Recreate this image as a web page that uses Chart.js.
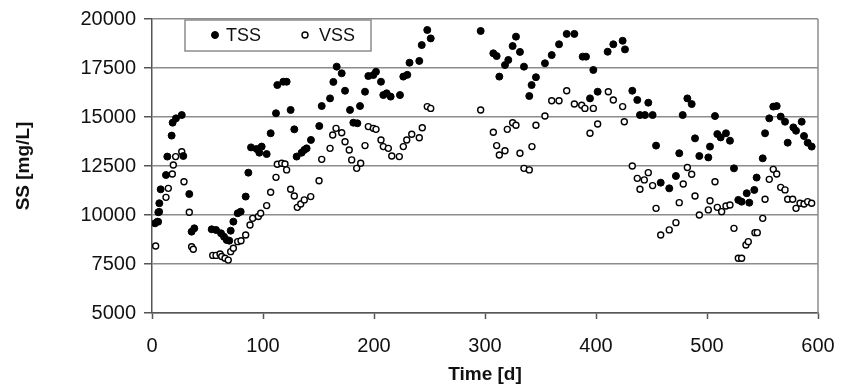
<!DOCTYPE html>
<html>
<head>
<meta charset="utf-8">
<script src="https://cdn.jsdelivr.net/npm/chart.js@4"></script>
<style>
  body { margin: 0; background: #fff; }
  #wrap { width: 841px; height: 390px; }
</style>
</head>
<body>
<div id="wrap"><canvas id="ssChart" width="841" height="390"></canvas></div>
<script>
  // TSS: filled dots
  const tssDays = [2.7, 4.8, 5.7, 6.6, 7.8, 12.6, 13.8, 17.7, 18.6, 21.6, 26.8, 28.2, 33.6, 35.7, 38.1,
    53.8, 57.7, 62.2, 64.9, 67.3, 69.6, 70.9, 73.3, 77.2, 79.9, 84.4, 86.8, 89.2, 94.3, 96.7, 98.8,
    103.3, 106.9, 111.7, 112.9, 118.3, 121.3, 124.9, 128.2, 130.3, 134.8, 137.2, 139.3, 143.2, 150.7,
    152.9, 160.4, 163.4, 166.4, 170.9, 173.9, 178.4, 181.4, 185, 187.4, 191.9, 194.9, 199.4, 201.8,
    206.3, 208.4, 211.4, 215, 223.4, 226.4, 230, 232, 240.8, 243, 248, 251.1,
    296.1, 307.5, 310.5, 312.9, 318, 321, 324.9, 327.9, 331.5, 335.1, 339.9, 342, 345.9, 354, 360.1,
    366.7, 373.6, 380.5, 388, 391, 394.6, 397.6, 401.5, 410.5, 415.6, 424, 426.1, 432.7, 437.2, 439.6,
    444.1, 447.1, 451, 454.1, 458.3, 466, 472, 475, 478.1, 482.3, 486.2, 489.2, 493.1, 501.2, 502.7,
    507.2, 509.3, 512.3, 517.1, 520.7, 524.3, 528.2, 531.2, 535.8, 538.1, 542.6, 544.7, 550.2, 552.3,
    556.1, 559.7, 562.8, 566.4, 570.3, 572.7, 577.8, 580.2, 585.3, 587.4, 590.7, 594.3];
  const tssValues = [9575, 9660, 10140, 10600, 11310, 12040, 12980, 14050, 14710, 14930, 15100, 13010, 11070, 9150, 9320,
    9270, 9235, 9065, 8890, 8725, 8690, 9200, 9660, 10090, 10170, 10940, 12160, 13450, 13370, 13180, 13490,
    13110, 14170, 15190, 16630, 16800, 16800, 15360, 14370, 12980, 13180, 13320, 13400, 13830, 14540,
    15560, 15950, 16790, 17570, 17230, 16340, 15360, 14710, 14680, 15560, 16290, 17090, 17140, 17310,
    16800, 16120, 16210, 16040, 16120, 17060, 17150, 17770, 17860, 18670, 19440, 19010,
    19390, 18250, 18110, 17060, 17650, 17910, 18620, 19100, 18320, 17570, 16070, 16630, 17030, 17740, 18160,
    18710, 19240, 19240, 18080, 18080, 15950, 17400, 16290, 18330, 18710, 18890, 18450, 16340, 15870, 15100,
    15100, 15730, 15100, 13540, 11650, 11360, 11990, 13150, 15100, 15950, 15660, 13910, 13010, 12940, 13490,
    15050, 14130, 13960, 14170, 13790, 12380, 10770, 10680, 11110, 10630, 11280, 11910, 12890, 14170,
    14930, 15530, 15560, 15020, 14760, 13690, 14470, 14300, 14760, 14030, 13690, 13490];

  // VSS: open circles
  const vssDays = [3.3, 5.7, 6.6, 12.6, 14.7, 18.3, 19.2, 21.3, 26.8, 28.8, 33.6, 35.7, 37.2,
    54.7, 57.7, 61.3, 62.8, 65.8, 68.7, 70.9, 73.3, 77.2, 80.2, 84.4, 88.3, 90.7, 95.8, 97.9,
    103.3, 106.9, 111.7, 112.9, 116.8, 119.8, 121.3, 124.9, 128.2, 130.9, 134, 137.2, 143, 150.5,
    152.9, 160.4, 162.8, 165.8, 170.9, 173.9, 177.7, 179.9, 184.4, 188, 191.9, 194.9, 199.4, 201.8,
    206.3, 208.4, 212.9, 216, 222.8, 226.4, 229.5, 234, 240.8, 243.5, 248, 251.1,
    296.1, 307.5, 310.5, 312.9, 318, 320.1, 324.9, 327.9, 331.5, 335.1, 339.9, 342.3, 345.9, 354, 360.1,
    366.7, 373.6, 380.5, 387.1, 390, 394.6, 397.6, 401.5, 411.1, 415.6, 424, 425.5, 432.7, 437.2, 439.6,
    443.5, 447.1, 451, 454.1, 458.3, 466, 472, 475, 478.6, 482.3, 486.2, 489.2, 493.1, 501.2, 502.7,
    507.2, 509.3, 513.2, 517.1, 520.7, 524.3, 528.2, 531.2, 535.1, 537.2, 543.2, 545.3, 550.2, 552.3,
    556.1, 559.7, 562.8, 566.4, 570.3, 572.7, 577.2, 580.2, 583.8, 587.4, 590.7, 594.3];
  const vssValues = [8420, 9660, 10170, 10900, 11360, 12090, 12550, 12980, 13230, 11700, 10140, 8380, 8250,
    7940, 7940, 8010, 7880, 7790, 7700, 8130, 8300, 8640, 8690, 8980, 9490, 9830, 9920, 10090,
    10480, 11160, 11920, 12590, 12640, 12600, 12300, 11310, 10970, 10390, 10560, 10770, 10940, 11750,
    12840, 13400, 14080, 14420, 14200, 13740, 13320, 12810, 12380, 12640, 13540, 14510, 14420, 14370,
    13830, 13490, 13400, 13010, 12980, 13490, 13830, 14120, 13940, 14450, 15530, 15440,
    15360, 14220, 13540, 13060, 13280, 14370, 14710, 14580, 13150, 12380, 12300, 13490, 14580, 15050, 15830,
    15830, 16340, 15660, 15600, 15440, 14170, 15440, 14640, 16290, 15870, 15530, 14760, 12500, 11870, 11310,
    11790, 12160, 11500, 10340, 8980, 9240, 9610, 10630, 11580, 12420, 12080, 10970, 10000, 10260, 10730,
    11700, 10390, 10170, 10460, 10510, 9320, 7790, 7790, 8470, 8640, 9100, 9100, 9830, 10800,
    11820, 12330, 12090, 11410, 11280, 10800, 10800, 10340, 10600, 10560, 10680, 10600];

  const xTicks = [0, 100, 200, 300, 400, 500, 600];
  const yTicks = [5000, 7500, 10000, 12500, 15000, 17500, 20000];

  const toPoints = (days, values) => days.map((d, i) => ({ x: d, y: values[i] }));

  const FONT = '"Liberation Sans", Arial, sans-serif';

  // legend box inside the plot + right frame line
  const boxLegend = {
    id: 'boxLegend',
    beforeDatasetsDraw(chart) {
      const a = chart.chartArea;
      const ctx = chart.ctx;
      ctx.save();
      ctx.strokeStyle = '#8c8c8c';
      ctx.lineWidth = 1.5;
      ctx.beginPath();
      ctx.moveTo(a.right, a.top);
      ctx.lineTo(a.right, a.bottom);
      ctx.stroke();
      ctx.restore();
    },
    afterDraw(chart) {
      const a = chart.chartArea;
      const ctx = chart.ctx;
      const left = a.left + 33, top = a.top + 1;
      ctx.save();
      ctx.fillStyle = '#fff';
      ctx.fillRect(left, top, 186, 31);
      ctx.strokeStyle = '#8c8c8c';
      ctx.lineWidth = 1.5;
      ctx.strokeRect(left, top, 186, 31);
      ctx.font = '18px ' + FONT;
      ctx.textBaseline = 'middle';
      chart.data.datasets.forEach((ds, i) => {
        const mx = left + 30 + i * 90;
        const my = top + 15;
        ctx.beginPath();
        ctx.arc(mx, my, ds.pointRadius, 0, Math.PI * 2);
        ctx.fillStyle = ds.pointBackgroundColor;
        ctx.fill();
        ctx.lineWidth = ds.pointBorderWidth;
        ctx.strokeStyle = ds.pointBorderColor;
        ctx.stroke();
        ctx.fillStyle = '#111';
        ctx.fillText(ds.label, mx + 11 + i * 3, my + 1);
      });
      ctx.restore();
    }
  };

  const ctx = document.getElementById('ssChart').getContext('2d');
  const ssChart = new Chart(ctx, {
    type: 'scatter',
    data: {
      datasets: [{
        label: 'TSS',
        data: toPoints(tssDays, tssValues),
        pointRadius: 3.5,
        pointBackgroundColor: '#000',
        pointBorderColor: '#000',
        pointBorderWidth: 1
      }, {
        label: 'VSS',
        data: toPoints(vssDays, vssValues),
        pointRadius: 3,
        pointBackgroundColor: '#fff',
        pointBorderColor: '#000',
        pointBorderWidth: 1.4
      }]
    },
    options: {
      responsive: false,
      animation: false,
      layout: { padding: { left: 0, right: 23, top: 19, bottom: 0 } },
      plugins: {
        legend: { display: false },
        tooltip: { enabled: false }
      },
      scales: {
        x: {
          type: 'linear',
          min: 0,
          max: 600,
          afterBuildTicks: (scale) => { scale.ticks = xTicks.map(v => ({ value: v })); },
          afterFit: (scale) => { scale.height = 77; scale.paddingLeft = 0; scale.paddingRight = 0; },
          grid: { drawOnChartArea: false, tickLength: 6, tickColor: '#555', tickWidth: 1.5 },
          border: { color: '#555', width: 1.5 },
          ticks: { color: '#111', padding: 15, maxRotation: 0, font: { family: FONT, size: 20 } },
          title: { display: true, text: 'Time [d]', color: '#111', padding: { bottom: 4 },
            font: { family: FONT, size: 19, weight: 'bold' } }
        },
        y: {
          min: 5000,
          max: 20000,
          afterBuildTicks: (scale) => { scale.ticks = yTicks.map(v => ({ value: v })); },
          afterFit: (scale) => { scale.width = 152; scale.paddingTop = 0; scale.paddingBottom = 0; },
          grid: { color: '#8c8c8c', lineWidth: 1.5, tickLength: 8, tickColor: '#555', tickWidth: 1.5 },
          border: { color: '#555', width: 1.5 },
          ticks: { color: '#111', padding: 8, font: { family: FONT, size: 20 },
            callback: (v) => String(v) },
          title: { display: true, text: 'SS [mg/L]', color: '#111', padding: { top: 12 },
            font: { family: FONT, size: 19, weight: 'bold' } }
        }
      }
    },
    plugins: [boxLegend]
  });
</script>
</body>
</html>
